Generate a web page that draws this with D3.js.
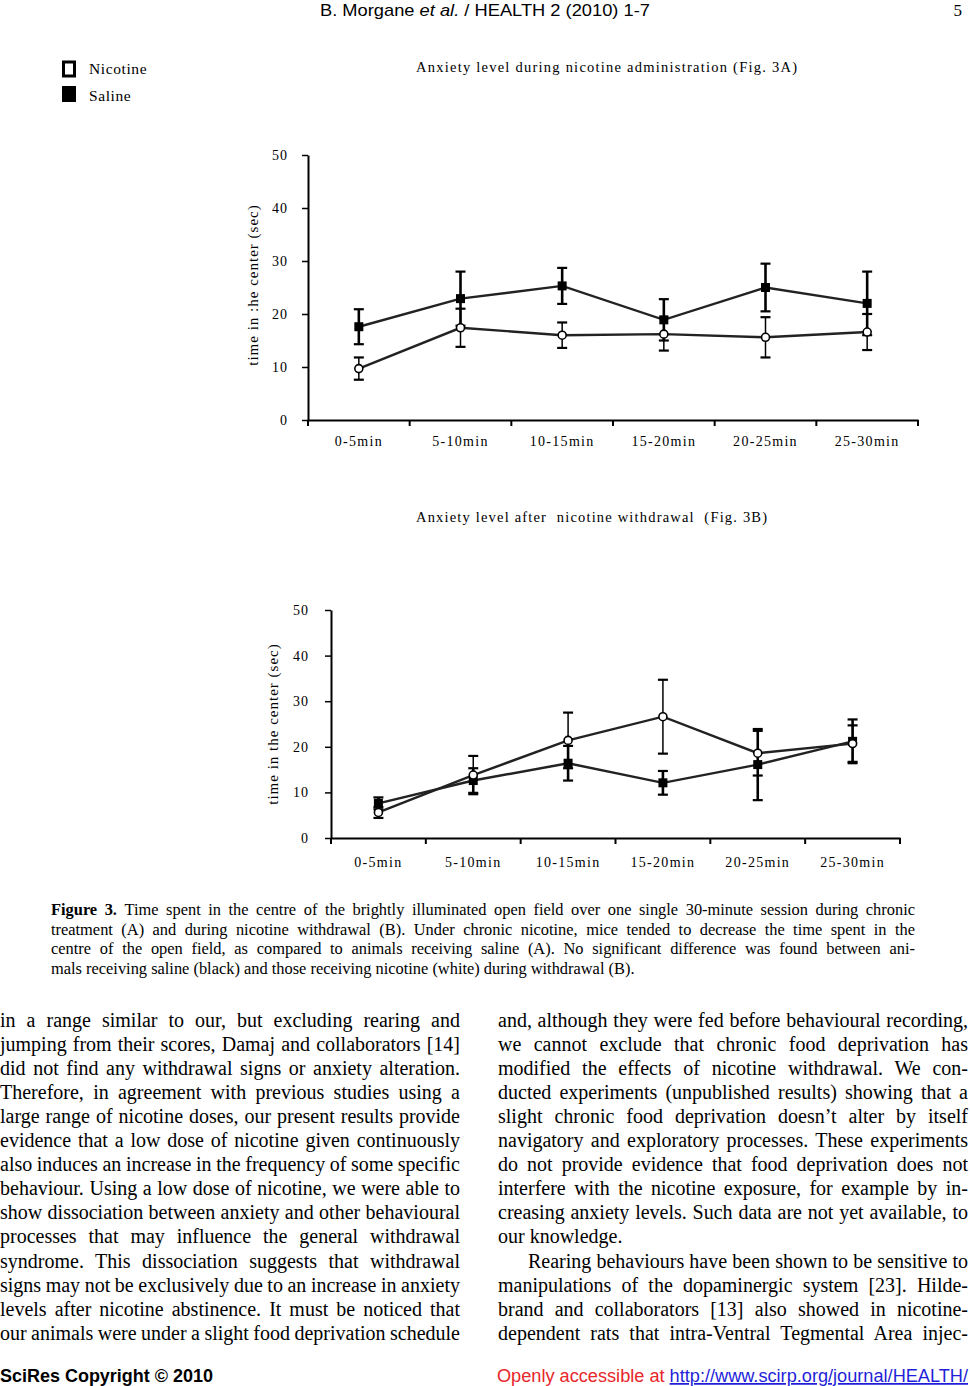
<!DOCTYPE html>
<html><head><meta charset="utf-8">
<script src="https://cdn.jsdelivr.net/npm/d3@7"></script>
<style>body{margin:0;background:#fff}svg{display:block}</style>
</head><body>
<svg id="page" width="970" height="1386"></svg>
<script>
// ---------- data ----------
const categories = ["0-5min","5-10min","10-15min","15-20min","20-25min","25-30min"];
const yTicks = [0,10,20,30,40,50];

const nicotineA    = [9.7, 17.4, 16.0, 16.2, 15.6, 16.6];
const nicotineAErr = [2.1, 3.6, 2.4, 3.1, 3.8, 3.4];
const salineA      = [17.6, 22.9, 25.3, 18.9, 25.0, 22.0];
const salineAErr   = [3.3, 5.1, 3.4, 3.9, 4.5, 6.0];

const nicotineB    = [5.6, 13.8, 21.4, 26.6, 18.6, 20.7];
const nicotineBErr = [1.2, 4.2, 6.1, 8.1, 4.9, 4.0];
const salineB      = [7.6, 12.6, 16.4, 12.1, 16.1, 21.2];
const salineBErr   = [1.3, 2.7, 3.8, 2.6, 7.8, 4.8];

const legendLabels = ["Nicotine","Saline"];
const titleA = "Anxiety level during nicotine administration (Fig. 3A)";
const titleB = "Anxiety level after  nicotine withdrawal  (Fig. 3B)";
const yLabelA = "time in :he center (sec)";
const yLabelB = "time in the center (sec)";

const pageNo = "5";
const captionLines = [
 "Time spent in the centre of the brightly illuminated open field over one single 30-minute session during chronic",
 "treatment (A) and during nicotine withdrawal (B). Under chronic nicotine, mice tended to decrease the time spent in the",
 "centre of the open field, as compared to animals receiving saline (A). No significant difference was found between ani-",
 "mals receiving saline (black) and those receiving nicotine (white) during withdrawal (B)."
];
const leftCol = [
 "in a range similar to our, but excluding rearing and",
 "jumping from their scores, Damaj and collaborators [14]",
 "did not find any withdrawal signs or anxiety alteration.",
 "Therefore, in agreement with previous studies using a",
 "large range of nicotine doses, our present results provide",
 "evidence that a low dose of nicotine given continuously",
 "also induces an increase in the frequency of some specific",
 "behaviour. Using a low dose of nicotine, we were able to",
 "show dissociation between anxiety and other behavioural",
 "processes that may influence the general withdrawal",
 "syndrome. This dissociation suggests that withdrawal",
 "signs may not be exclusively due to an increase in anxiety",
 "levels after nicotine abstinence. It must be noticed that",
 "our animals were under a slight food deprivation schedule"
];
const rightCol = [
 "and, although they were fed before behavioural recording,",
 "we cannot exclude that chronic food deprivation has",
 "modified the effects of nicotine withdrawal. We con-",
 "ducted experiments (unpublished results) showing that a",
 "slight chronic food deprivation doesn\u2019t alter by itself",
 "navigatory and exploratory processes. These experiments",
 "do not provide evidence that food deprivation does not",
 "interfere with the nicotine exposure, for example by in-",
 "creasing anxiety levels. Such data are not yet available, to",
 "our knowledge.",
 "Rearing behaviours have been shown to be sensitive to",
 "manipulations of the dopaminergic system [23]. Hilde-",
 "brand and collaborators [13] also showed in nicotine-",
 "dependent rats that intra-Ventral Tegmental Area injec-"
];

// ---------- drawing ----------
const svg = d3.select("#page");
const SERIF = "'Liberation Serif','Times New Roman',serif";
const SANS = "'Liberation Sans',Arial,sans-serif";

function justify(sel, x0, x1) {
  const len = sel.node().getComputedTextLength();
  const n = (sel.text().match(/ /g) || []).length;
  if (n > 0) sel.attr("word-spacing", (x1 - x0 - len) / n);
}

// header
svg.append("text").attr("x", 320).attr("y", 16)
  .attr("textLength", 330).attr("lengthAdjust","spacingAndGlyphs")
  .style("font-family", SANS).style("font-size","17px")
  .call(t => {
    t.append("tspan").text("B. Morgane ");
    t.append("tspan").style("font-style","italic").text("et al.");
    t.append("tspan").text(" / HEALTH 2 (2010) 1-7");
  });
svg.append("text").attr("x", 962).attr("y", 16).attr("text-anchor","end")
  .style("font-family", SERIF).style("font-size","17px").text(pageNo);

// legend
const lg = svg.append("g");
lg.append("rect").attr("x",63.5).attr("y",62).attr("width",11).attr("height",14)
  .attr("fill","#fff").attr("stroke","#000").attr("stroke-width",3);
lg.append("rect").attr("x",62).attr("y",86).attr("width",14).attr("height",16).attr("fill","#000");
lg.selectAll("text.lg").data(legendLabels).join("text")
  .attr("x",89).attr("y",(d,i)=> i===0 ? 74 : 101)
  .style("font-family",SERIF).style("font-size","15.5px").style("letter-spacing","0.6px").text(d=>d);

function chart(cfg) {
  const x = d3.scaleBand().domain(categories).range([cfg.x0, cfg.x1]).padding(0);
  const y = d3.scaleLinear().domain([0,50]).range([cfg.yb, cfg.yt]);
  const g = svg.append("g");
  svg.append("text").attr("x", cfg.titleX0).attr("y", cfg.titleY)
    .attr("textLength", cfg.titleW).attr("lengthAdjust","spacing")
    .style("font-family",SERIF).style("font-size","14.5px")
    .style("white-space","pre").attr("xml:space","preserve").text(cfg.title);
  const ya = g.append("g").attr("transform",`translate(${cfg.x0},0)`)
    .call(d3.axisLeft(y).tickValues(yTicks).tickSize(6).tickPadding(cfg.tickPad).tickSizeOuter(0));
  ya.select(".domain").attr("stroke","#000").attr("stroke-width",2);
  ya.selectAll(".tick line").attr("stroke-width",1.5);
  ya.selectAll(".tick text").style("font-family",SERIF).style("font-size","14px").style("letter-spacing","1px");
  const xa = g.append("g").attr("transform",`translate(0,${cfg.yb})`)
    .call(d3.axisBottom(x).tickSize(0).tickPadding(cfg.xPad));
  xa.select(".domain").attr("stroke","#000").attr("stroke-width",2);
  xa.selectAll(".tick text").style("font-family",SERIF).style("font-size","14px").style("letter-spacing","1.3px");
  const bounds = categories.map(c => x(c)).concat([cfg.x1]);
  g.selectAll("line.xt").data(bounds).join("line")
    .attr("x1",d=>d).attr("x2",d=>d).attr("y1",cfg.yb).attr("y2",cfg.yb+6)
    .attr("stroke","#000").attr("stroke-width",2);
  svg.append("text").attr("transform",`translate(${cfg.ylx},${cfg.yly}) rotate(-90)`)
    .attr("text-anchor","middle").style("font-family",SERIF).style("font-size","15px")
    .style("letter-spacing","1px").text(cfg.ylabel);

  const cx = i => x(categories[i]) + x.bandwidth()/2;
  const series = [
    {v: cfg.sal, e: cfg.salE, filled: true, ew: 2.6},
    {v: cfg.nic, e: cfg.nicE, filled: false, ew: 1.5}
  ];
  const line = d3.line().x((d,i)=>cx(i)).y(d=>y(d));
  series.forEach(s => {
    s.v.forEach((v,i) => {
      const up = y(v + s.e[i]), dn = y(v - s.e[i]);
      g.append("line").attr("x1",cx(i)).attr("x2",cx(i)).attr("y1",up).attr("y2",dn)
        .attr("stroke","#000").attr("stroke-width",s.ew);
      [up,dn].forEach(yy => g.append("line").attr("x1",cx(i)-5).attr("x2",cx(i)+5)
        .attr("y1",yy).attr("y2",yy).attr("stroke","#000").attr("stroke-width",2.2));
    });
  });
  series.forEach(s => {
    g.append("path").datum(s.v).attr("d",line).attr("fill","none")
      .attr("stroke","#222").attr("stroke-width",2.4);
  });
  series.forEach(s => {
    if (s.filled) {
      g.selectAll(null).data(s.v).join("rect")
        .attr("x",(d,i)=>cx(i)-4.5).attr("y",d=>y(d)-4.5).attr("width",9).attr("height",9).attr("fill","#000");
    } else {
      g.selectAll(null).data(s.v).join("circle")
        .attr("cx",(d,i)=>cx(i)).attr("cy",d=>y(d)).attr("r",4)
        .attr("fill","#fff").attr("stroke","#000").attr("stroke-width",1.6);
    }
  });
}

chart({x0:308, x1:918, yt:155, yb:420, title:titleA, titleX0:416, titleW:381, titleY:72,
  ylabel:yLabelA, ylx:258, yly:285, tickPad:14, xPad:16,
  nic:nicotineA, nicE:nicotineAErr, sal:salineA, salE:salineAErr});
chart({x0:331, x1:900, yt:610, yb:838, title:titleB, titleX0:416, titleW:351, titleY:522,
  ylabel:yLabelB, ylx:278, yly:724, tickPad:16, xPad:19,
  nic:nicotineB, nicE:nicotineBErr, sal:salineB, salE:salineBErr});

// caption
captionLines.forEach((ln,i) => {
  const yy = 915 + i*19.6;
  const t = svg.append("text").attr("x",51).attr("y",yy)
    .style("font-family",SERIF).style("font-size","16.4px");
  if (i === 0) {
    t.append("tspan").style("font-weight","bold").text("Figure 3. ");
    t.append("tspan").text(ln);
  } else t.text(ln);
  if (i < captionLines.length-1) justify(t, 51, 915);
});

// body columns
function column(lines, x0, x1, lastIdx, indentIdx) {
  lines.forEach((ln,i) => {
    const xs = (i === indentIdx) ? x0 + 30 : x0;
    const t = svg.append("text").attr("x",xs).attr("y",1027 + i*24.05)
      .style("font-family",SERIF).style("font-size","20px").text(ln);
    if (!lastIdx.includes(i)) justify(t, xs, x1);
  });
}
column(leftCol, 0, 460, [], -1);
column(rightCol, 498, 968, [9], 10);

// footer
svg.append("text").attr("x",0).attr("y",1382).style("font-family",SANS)
  .attr("textLength",213).attr("lengthAdjust","spacingAndGlyphs")
  .style("font-size","17.5px").style("font-weight","bold").text("SciRes Copyright \u00a9 2010");
const ft = svg.append("text").attr("x",497).attr("y",1382)
  .attr("textLength",471).attr("lengthAdjust","spacingAndGlyphs")
  .style("font-family",SANS).style("font-size","17.5px");
ft.append("tspan").attr("fill","#e8262a").text("Openly accessible at ");
ft.append("tspan").attr("fill","#1f1fd9").style("text-decoration","underline").text("http://www.scirp.org/journal/HEALTH/");
</script>
</body></html>
